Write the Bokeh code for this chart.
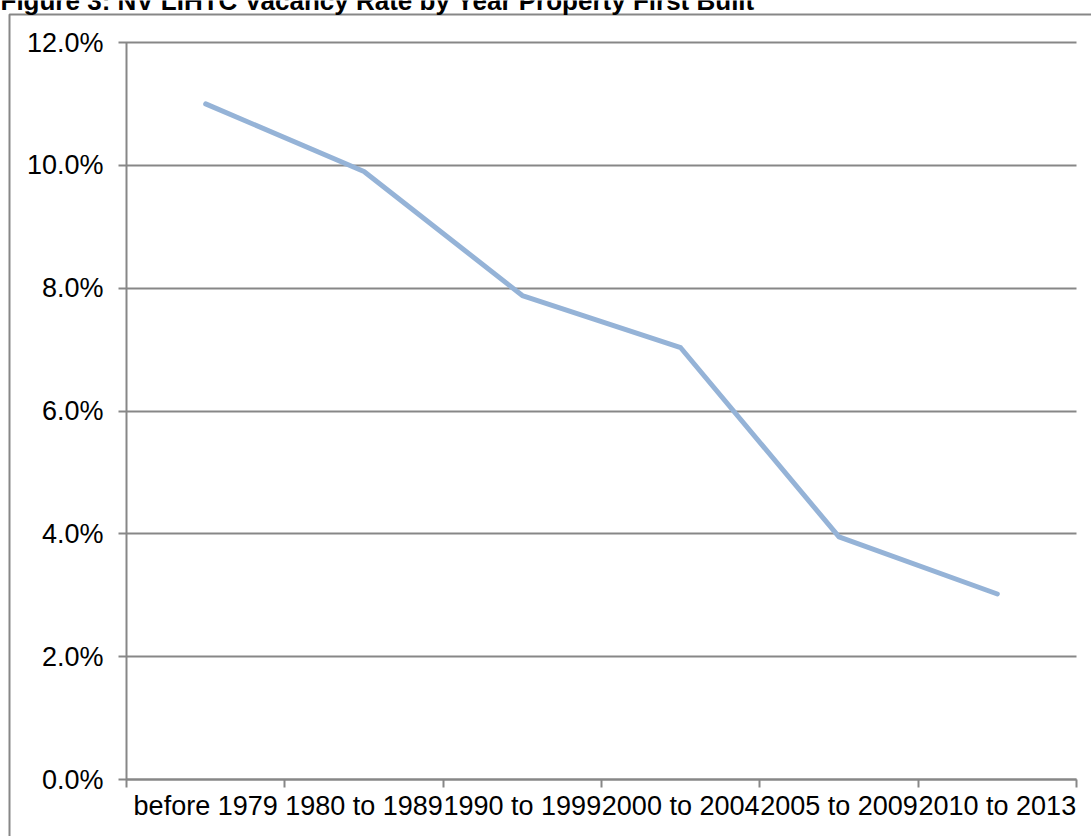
from bokeh.plotting import figure
from bokeh.models import (Range1d, FixedTicker, NumeralTickFormatter, Label,
                          BoxAnnotation, ColumnDataSource)
from bokeh.embed import file_html
from bokeh.resources import INLINE

# ---- data ----
categories = ["before 1979", "1980 to 1989", "1990 to 1999",
              "2000 to 2004", "2005 to 2009", "2010 to 2013"]
vacancy_rate = [0.110, 0.099, 0.0788, 0.0703, 0.0395, 0.0302]
y_ticks = [0.0, 0.02, 0.04, 0.06, 0.08, 0.10, 0.12]
title_text = "Figure 3: NV LIHTC Vacancy Rate by Year Property First Built"

# ---- layout (canvas pixels) ----
W, H = 1091, 836
PL, PR, PT, PB = 126, 1076, 42, 779   # plot area: x 0..n, y 0..12%
n = len(categories)
ymax = 0.12
px_x = (PR - PL) / n
px_y = (PB - PT) / ymax

def cx(px):   # canvas x -> data x
    return (px - PL) / px_x

def cy(py):   # canvas y -> data y
    return (PB - py) / px_y

x_pos = [i + 0.5 for i in range(n)]
src = ColumnDataSource(dict(x=x_pos, y=vacancy_rate, cat=categories))

p = figure(width=W, height=H, output_backend="svg", toolbar_location=None,
           x_range=Range1d(cx(0), cx(W)), y_range=Range1d(cy(H), cy(0)),
           min_border=0, min_border_left=0, min_border_right=0,
           min_border_top=0, min_border_bottom=0)
p.outline_line_color = None
p.background_fill_color = "white"
p.border_fill_color = "white"
p.xgrid.grid_line_color = None
p.ygrid.grid_line_color = None

GRAY = "#878787"

# chart-area border (runs past the window to the right and bottom)
p.add_layout(BoxAnnotation(left=cx(9), right=cx(W + 20),
                           top=cy(14), bottom=cy(H + 20),
                           fill_alpha=0, line_color=GRAY, line_alpha=1.0,
                           line_width=2))

# x axis: labels centred under each category, ticks at category boundaries
xa = p.xaxis[0]
xa.fixed_location = 0
xa.bounds = (0, n)
xa.ticker = FixedTicker(ticks=x_pos, minor_ticks=list(range(n + 1)))
xa.major_label_overrides = {x: c for x, c in zip(x_pos, categories)}
xa.major_tick_line_color = None
xa.minor_tick_line_color = GRAY
xa.minor_tick_line_width = 2
xa.minor_tick_out = 8
xa.minor_tick_in = 0
xa.axis_line_color = GRAY
xa.axis_line_width = 2
xa.major_label_text_font = "Liberation Sans"
xa.major_label_text_font_size = "27px"
xa.major_label_text_color = "black"
xa.major_label_standoff = 3

# y axis: its major ticks reach across the plot area as the gridlines
ya = p.yaxis[0]
ya.fixed_location = 0
ya.bounds = (0, ymax)
ya.ticker = FixedTicker(ticks=y_ticks, minor_ticks=[])
ya.formatter = NumeralTickFormatter(format="0.0%")
ya.major_tick_line_color = GRAY
ya.major_tick_line_width = 2
ya.major_tick_out = 8
ya.major_tick_in = PR - PL
ya.axis_line_color = GRAY
ya.axis_line_width = 2
ya.major_label_text_font = "Liberation Sans"
ya.major_label_text_font_size = "27px"
ya.major_label_text_color = "black"
ya.major_label_standoff = 15

# data line drawn above the guides
p.line("x", "y", source=src, line_color="#95B3D7", line_width=5,
       line_cap="round", line_join="round", level="overlay")

# title, partly cut off at the top of the page
p.add_layout(Label(x=cx(0), y=cy(0), text=title_text,
                   text_font="Liberation Sans", text_font_style="bold",
                   text_font_size="26px", text_baseline="alphabetic",
                   text_align="left", text_color="black"))

open("out.html", "w").write(file_html(p, INLINE))
